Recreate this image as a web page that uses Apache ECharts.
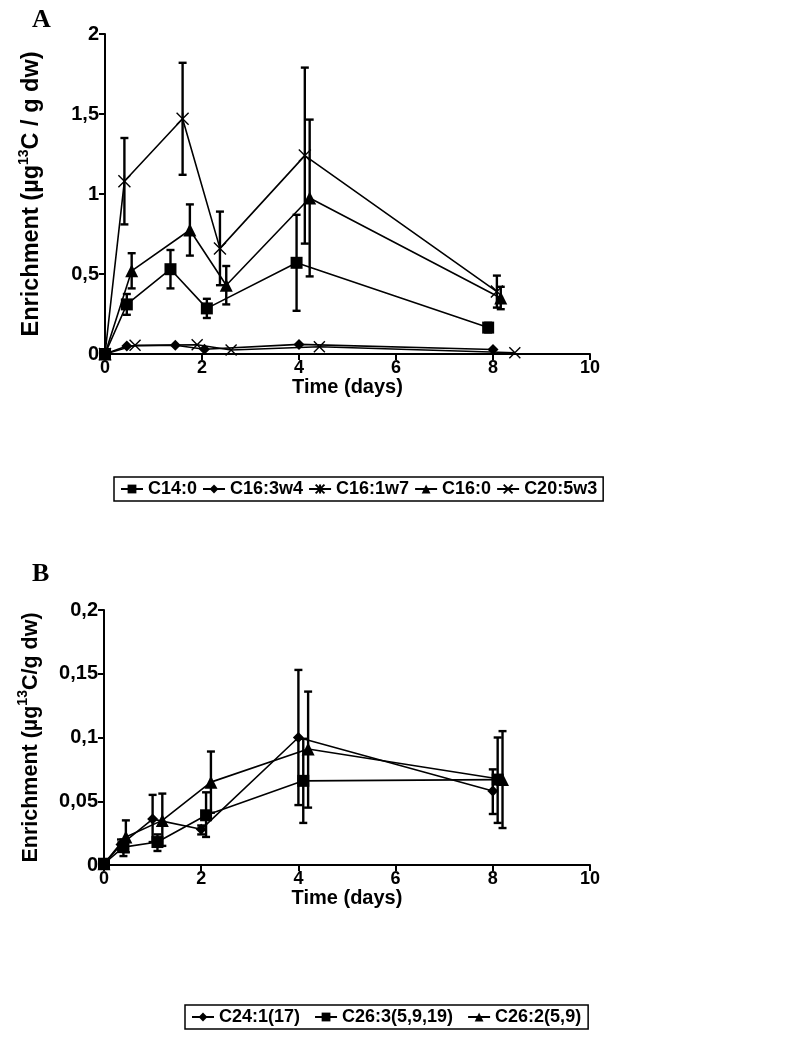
<!DOCTYPE html>
<html><head><meta charset="utf-8">
<script src="https://cdn.jsdelivr.net/npm/echarts@6/dist/echarts.min.js"></script>
<style>html,body{margin:0;padding:0;background:#fff}#c{width:786px;height:1042px}</style>
</head><body><div id="c"></div>
<script>
// ---------- Panel A data ----------
const namesA = ['C14:0', 'C16:3w4', 'C16:1w7', 'C16:0', 'C20:5w3'];
const timeA_C14 = [0, 0.45, 1.35, 2.1, 3.95, 7.9];
const valA_C14  = [0, 0.31, 0.53, 0.285, 0.57, 0.165];
const errA_C14  = [0, 0.065, 0.12, 0.06, 0.30, 0.03];
const timeA_C163 = [0, 0.45, 1.45, 2.05, 4.0, 8.0];
const valA_C163  = [0, 0.05, 0.055, 0.03, 0.06, 0.028];
const timeA_C161 = [0, 0.4, 1.6, 2.37, 4.12, 8.08];
const valA_C161  = [0, 1.08, 1.47, 0.66, 1.24, 0.39];
const errA_C161  = [0, 0.27, 0.35, 0.23, 0.55, 0.10];
const timeA_C160 = [0, 0.55, 1.75, 2.5, 4.22, 8.16];
const valA_C160  = [0, 0.52, 0.775, 0.43, 0.975, 0.35];
const errA_C160  = [0, 0.11, 0.16, 0.12, 0.49, 0.07];
const timeA_C205 = [0, 0.62, 1.9, 2.6, 4.42, 8.45];
const valA_C205  = [0, 0.055, 0.058, 0.025, 0.045, 0.008];

// ---------- Panel B data ----------
const namesB = ['C24:1(17)', 'C26:3(5,9,19)', 'C26:2(5,9)'];
const timeB_C24 = [0, 0.35, 1, 2, 4, 8];
const valB_C24  = [0.001, 0.016, 0.036, 0.028, 0.100, 0.058];
const lowB_C24  = [0.001, 0.012, 0.018, 0.024, 0.047, 0.040];
const highB_C24 = [0.001, 0.020, 0.055, 0.031, 0.153, 0.075];
const timeB_C263 = [0, 0.4, 1.1, 2.1, 4.1, 8.1];
const valB_C263  = [0.001, 0.014, 0.018, 0.039, 0.066, 0.067];
const lowB_C263  = [0.001, 0.007, 0.011, 0.022, 0.033, 0.033];
const highB_C263 = [0.002, 0.020, 0.024, 0.057, 0.099, 0.100];
const timeB_C262 = [0, 0.45, 1.2, 2.2, 4.2, 8.2];
const valB_C262  = [0.001, 0.022, 0.035, 0.065, 0.091, 0.067];
const lowB_C262  = [0.001, 0.010, 0.015, 0.041, 0.045, 0.029];
const highB_C262 = [0.002, 0.035, 0.056, 0.089, 0.136, 0.105];

const FONT = 'Liberation Sans, Arial, sans-serif';
const comma = v => String(v).replace('.', ',');
const X_PATH = 'path://M0,0 L10,10 M0,10 L10,0';
const AST_PATH = 'path://M5,0 L5,10 M0,0 L10,10 M0,10 L10,0';

function pts(xs, ys) { return xs.map((x, i) => [x, ys[i]]); }
function errSym(xs, ys, es) { return xs.map((x, i) => [x, ys[i] - es[i], ys[i] + es[i]]); }
function errAsym(xs, lo, hi) { return xs.map((x, i) => [x, lo[i], hi[i]]); }

function lineSeries(name, data, symbol, size, axisIdx, stroked) {
  return {
    type: 'line', name, data, xAxisIndex: axisIdx, yAxisIndex: axisIdx,
    symbol, symbolSize: size, showSymbol: true, animation: false, z: 3,
    lineStyle: { color: '#000', width: 1.6 },
    itemStyle: stroked ? { color: 'none', borderColor: '#000', borderWidth: 1.4 } : { color: '#000', borderColor: '#000', borderWidth: 0 }
  };
}
function errSeries(data, axisIdx) {
  return {
    type: 'custom', data, xAxisIndex: axisIdx, yAxisIndex: axisIdx, animation: false, z: 2,
    encode: { x: 0, y: [1, 2] },
    renderItem(params, api) {
      const x = api.value(0);
      const lo = api.coord([x, api.value(1)]);
      const hi = api.coord([x, api.value(2)]);
      if (Math.abs(hi[1] - lo[1]) < 1) return null;
      const w = 4;
      const st = { stroke: '#000', lineWidth: 2.4 };
      return {
        type: 'group', children: [
          { type: 'line', shape: { x1: lo[0], y1: lo[1], x2: hi[0], y2: hi[1] }, style: st },
          { type: 'line', shape: { x1: lo[0] - w, y1: lo[1], x2: lo[0] + w, y2: lo[1] }, style: st },
          { type: 'line', shape: { x1: hi[0] - w, y1: hi[1], x2: hi[0] + w, y2: hi[1] }, style: st }
        ]
      };
    }
  };
}

function xAx(gi) {
  return {
    type: 'value', gridIndex: gi, min: 0, max: 10, interval: 2,
    name: 'Time (days)', nameLocation: 'middle', nameGap: 23,
    nameTextStyle: { fontFamily: FONT, fontWeight: 'bold', fontSize: 20, color: '#000', verticalAlign: 'top' },
    axisLine: { lineStyle: { color: '#000', width: 2 } },
    axisTick: { show: true, inside: false, length: 6, lineStyle: { color: '#000', width: 2 } },
    axisLabel: { fontFamily: FONT, fontWeight: 'bold', fontSize: 18, color: '#000', margin: 5 },
    splitLine: { show: false }
  };
}
function yAx(gi, max, interval, name, gap, fs) {
  return {
    type: 'value', gridIndex: gi, min: 0, max, interval,
    name, nameLocation: 'middle', nameGap: gap, nameRotate: 90,
    nameTextStyle: {
      fontFamily: FONT, fontWeight: 'bold', fontSize: fs, lineHeight: 30, color: '#000',
      rich: { sup: { fontFamily: FONT, fontWeight: 'bold', fontSize: 14, color: '#000', verticalAlign: 'top', lineHeight: 14 } }
    },
    axisLine: { show: true, lineStyle: { color: '#000', width: 2 } },
    axisTick: { show: true, inside: false, length: 6, lineStyle: { color: '#000', width: 2 } },
    axisLabel: { fontFamily: FONT, fontWeight: 'bold', fontSize: 20, color: '#000', margin: 6, formatter: comma },
    splitLine: { show: false }
  };
}

const legendText = { fontFamily: FONT, fontWeight: 'bold', fontSize: 18, color: '#000' };

const option = {
  backgroundColor: '#fff',
  animation: false,
  title: [
    { text: 'A', left: 27, top: 2, textStyle: { fontFamily: 'Liberation Serif, Times New Roman, serif', fontWeight: 'bold', fontSize: 26, color: '#000' } },
    { text: 'B', left: 27, top: 556, textStyle: { fontFamily: 'Liberation Serif, Times New Roman, serif', fontWeight: 'bold', fontSize: 26, color: '#000' } }
  ],
  grid: [
    { left: 105, top: 34, width: 485, height: 320 },
    { left: 104, top: 610, width: 486, height: 255 }
  ],
  xAxis: [xAx(0), xAx(1)],
  yAxis: [
    yAx(0, 2, 0.5, 'Enrichment (µg{sup|13}C / g dw)', 58, 23.5),
    yAx(1, 0.2, 0.05, 'Enrichment (µg{sup|13}C/g dw)', 58, 21.5)
  ],
  legend: [
    {
      data: namesA, left: 114, top: 477, orient: 'horizontal',
      borderColor: '#000', borderWidth: 1.5, padding: [3, 6, 3, 6], itemGap: 5,
      itemWidth: 22, itemHeight: 11, textStyle: legendText, selectedMode: false
    },
    {
      data: namesB, left: 185, top: 1005, orient: 'horizontal',
      borderColor: '#000', borderWidth: 1.5, padding: [3, 7, 3, 6], itemGap: 14,
      itemWidth: 22, itemHeight: 11, textStyle: legendText, selectedMode: false
    }
  ],
  series: [
    errSeries(errSym(timeA_C14, valA_C14, errA_C14), 0),
    errSeries(errSym(timeA_C161, valA_C161, errA_C161), 0),
    errSeries(errSym(timeA_C160, valA_C160, errA_C160), 0),
    lineSeries('C14:0', pts(timeA_C14, valA_C14), 'rect', 12, 0, false),
    lineSeries('C16:3w4', pts(timeA_C163, valA_C163), 'diamond', 11, 0, false),
    lineSeries('C16:1w7', pts(timeA_C161, valA_C161), AST_PATH, 12, 0, true),
    lineSeries('C16:0', pts(timeA_C160, valA_C160), 'triangle', 13, 0, false),
    lineSeries('C20:5w3', pts(timeA_C205, valA_C205), X_PATH, 11, 0, true),

    errSeries(errAsym(timeB_C24, lowB_C24, highB_C24), 1),
    errSeries(errAsym(timeB_C263, lowB_C263, highB_C263), 1),
    errSeries(errAsym(timeB_C262, lowB_C262, highB_C262), 1),
    lineSeries('C24:1(17)', pts(timeB_C24, valB_C24), 'diamond', 11, 1, false),
    lineSeries('C26:3(5,9,19)', pts(timeB_C263, valB_C263), 'rect', 12, 1, false),
    lineSeries('C26:2(5,9)', pts(timeB_C262, valB_C262), 'triangle', 13, 1, false)
  ]
};
const chart = echarts.init(document.getElementById('c'), null, { renderer: 'canvas' });
chart.setOption(option);
</script>
</body></html>
